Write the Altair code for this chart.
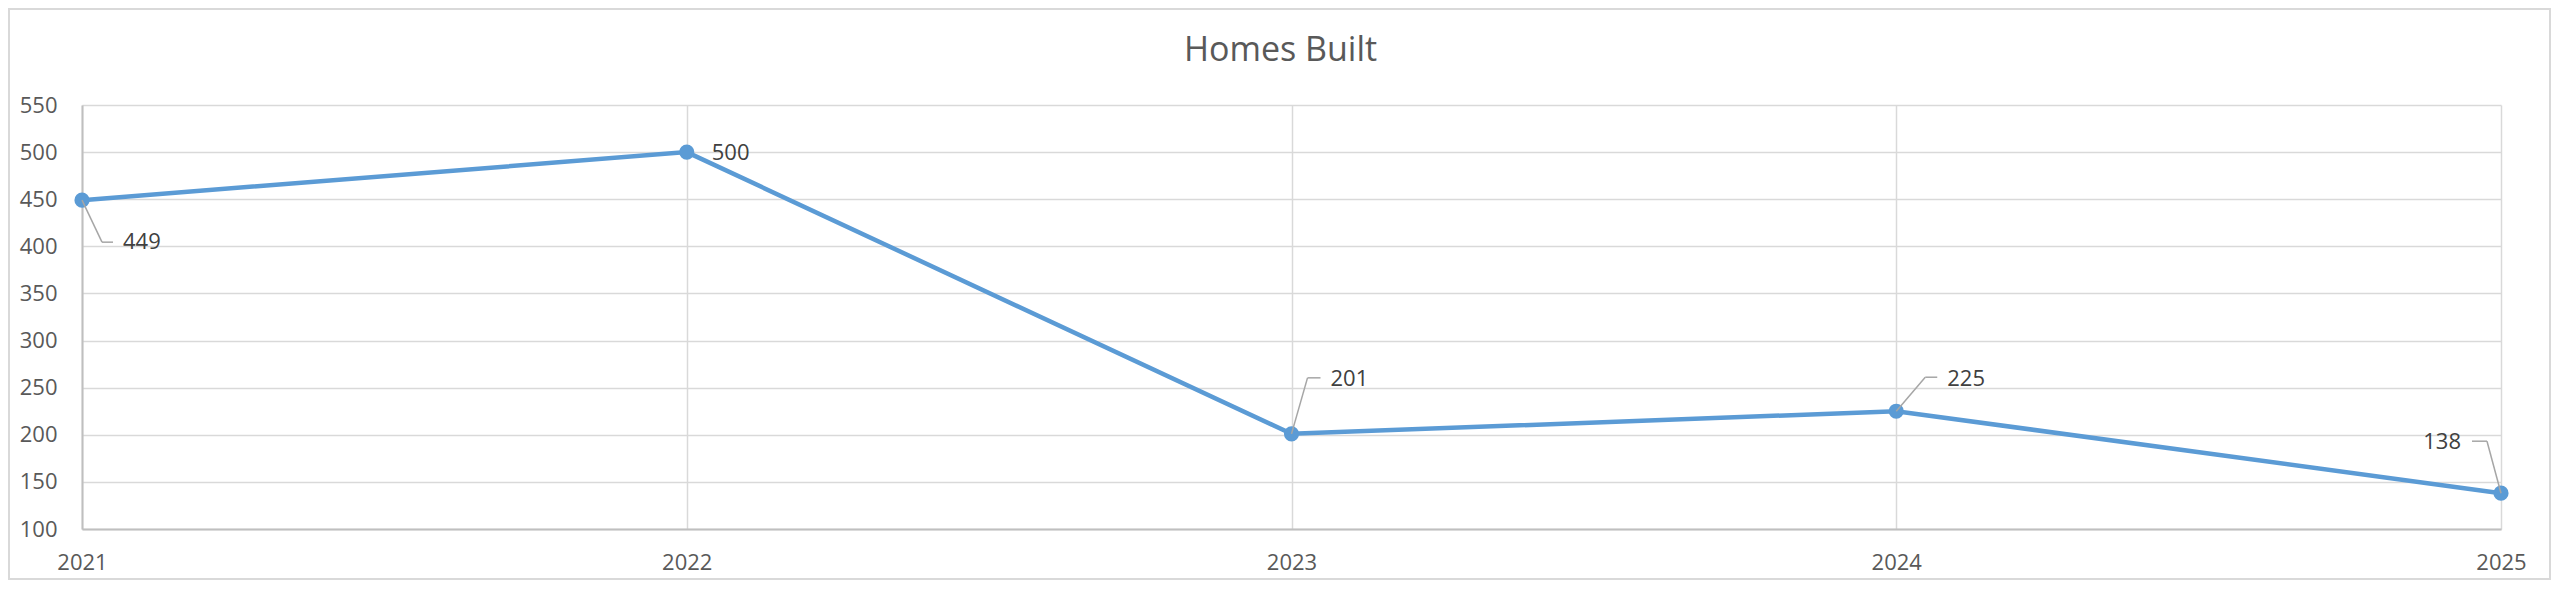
import altair as alt
import pandas as pd

# ---- data ----
years = [2021, 2022, 2023, 2024, 2025]
homes_built = [449, 500, 201, 225, 138]
y_ticks = [100, 150, 200, 250, 300, 350, 400, 450, 500, 550]
title_text = "Homes Built"

df = pd.DataFrame({"year": years, "homes": homes_built})

FONT = "Open Sans"
LINE_BLUE = "#5B9BD5"
GRID = "#d9d9d9"
LEADER = "#a6a6a6"

W, H = 2419, 424
PAD = {"left": 74, "top": 97, "right": 51, "bottom": 52}

x_enc = alt.X("year:Q",
              scale=alt.Scale(domain=[years[0], years[-1]], nice=False, zero=False),
              axis=alt.Axis(values=years, format="d", title=None, grid=True,
                            ticks=False, labelPadding=23, labelBaseline="top",
                            labelFlush=False,
                            domainColor="#bfbfbf", domainWidth=2))
y_enc = alt.Y("homes:Q",
              scale=alt.Scale(domain=[y_ticks[0], y_ticks[-1]], nice=False, zero=False),
              axis=alt.Axis(values=y_ticks, title=None, grid=True, ticks=False,
                            labelPadding=25, labelFlush=False,
                            domainColor="#bfbfbf", domainWidth=2))

base = alt.Chart(df)

line = base.mark_line(color=LINE_BLUE, strokeWidth=4.5).encode(x=x_enc, y=y_enc)
points = base.mark_point(filled=True, color=LINE_BLUE, size=230, opacity=1).encode(
    x="year:Q", y="homes:Q")

# label styling per point: (text dx, text dy, align, leader elbow (dx, dy), leader end dx)
label_style = {
    2021: (41, 42, "left", (20, 42), 31),
    2022: (25, 1, "left", None, None),
    2023: (39, -55, "left", (16, -56), 29),
    2024: (51, -32, "left", (29, -34), 41),
    2025: (-40, -51, "right", (-14, -52), -29),
}

label_layers = []
for yr, (tdx, tdy, align, elbow, hend) in label_style.items():
    sub = base.transform_filter(alt.datum.year == yr)
    if elbow is not None:
        ex, ey = elbow
        r1 = sub.mark_rule(color=LEADER, strokeWidth=1.5, x2Offset=ex, y2Offset=ey).encode(
            x="year:Q", y="homes:Q", x2="year:Q", y2="homes:Q")
        r2 = sub.mark_rule(color=LEADER, strokeWidth=1.5, xOffset=ex, yOffset=ey,
                           x2Offset=hend, y2Offset=ey).encode(
            x="year:Q", y="homes:Q", x2="year:Q", y2="homes:Q")
        label_layers += [r1, r2]
    txt = sub.mark_text(align=align, baseline="middle", dx=tdx, dy=tdy, font=FONT,
                        fontSize=22, color="#404040").encode(
        x="year:Q", y="homes:Q", text="homes:Q")
    label_layers.append(txt)

border = alt.Chart(pd.DataFrame({"k": [0]})).mark_rect(
    filled=False, stroke=GRID, strokeWidth=2).encode(
    x=alt.value(-73), x2=alt.value(W + PAD["right"] - 2),
    y=alt.value(-96), y2=alt.value(H + PAD["bottom"] - 2))

chart = alt.layer(line, points, *label_layers, border).properties(
    width=W, height=H,
    background="white",
    autosize=alt.AutoSizeParams(type="none"),
    padding=PAD,
    title=alt.TitleParams(title_text, font=FONT, fontSize=34, fontWeight="normal",
                          color="#595959", anchor="middle", baseline="alphabetic",
                          offset=0, dy=87, dx=-11),
).configure_view(stroke=None).configure_axis(
    labelFont=FONT, labelFontSize=22, labelColor="#595959",
    gridColor=GRID, gridWidth=1.5,
)

chart.save("out.html", embed_options={"renderer": "svg", "actions": False})
